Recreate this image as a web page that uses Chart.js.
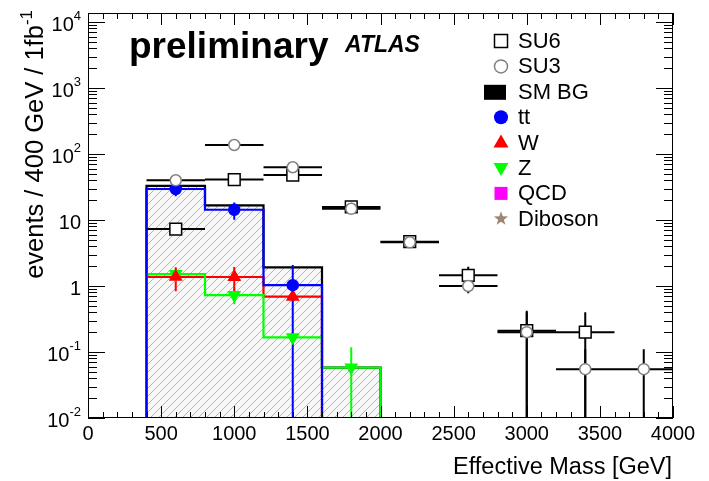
<!DOCTYPE html>
<html>
<head>
<meta charset="utf-8">
<script src="https://cdn.jsdelivr.net/npm/chart.js@4.4.0/dist/chart.umd.min.js"></script>
<style>
    html, body { margin: 0; padding: 0; background: #fff; }
    canvas { display: block; }
</style>
</head>
<body>
<canvas id="mass-chart" width="709" height="481"></canvas>
<script>
// Axis ranges and tick labels
const yMin = 0.01;
const yMax = 13700;
const xTickValues = [0, 500, 1000, 1500, 2000, 2500, 3000, 3500, 4000];
const yTickExponents = [-2, -1, 0, 1, 2, 3, 4];

// Bins (400 GeV wide)
const binCenters = [600, 1000, 1400, 1800, 2200, 2600, 3000, 3400, 3800];
const bgEdges = [400, 800, 1200, 1600, 2000];

// Background histograms
const smBg = [33, 16.7, 1.92, 0.058];
const ttHist = [29.5, 14.3, 1.03];
const wHist = [1.38, 1.37, 0.69];
const zHist = [1.52, 0.73, 0.167, 0.058];

// Background markers errors
const ttErr = [6.5, 4.2, 1.05];
const wErr = [0.55, 0.57, 0.1];
const zErr = [0.3, 0.2, 0.03, 0.06];

// Signal points
const su6 = [7.3, 41, 48, 15.8, 4.7, 1.45, 0.21, 0.2];
const su6Err = [0.5, 1.5, 1.6, 0.9, 0.5, 0.5, 0.21, 0.2];
const su3 = [40, 137, 63, 14.8, 4.6, 1.0, 0.2, 0.055, 0.055];
const su3Err = [1.4, 2.7, 1.8, 0.9, 0.5, 0.22, 0.2, 0.055, 0.055];

const legendLabels = ['SU6', 'SU3', 'SM BG', 'tt', 'W', 'Z', 'QCD', 'Diboson'];

const FONT = '"Liberation Sans", Arial, Helvetica, sans-serif';
const BLUE = '#0000ff', RED = '#ff0000', GREEN = '#00ff00';

// step outline that starts and ends on the axis floor
function stepPoints(edges, vals) {
    const pts = [{ x: edges[0], y: yMin }];
    vals.forEach((v, i) => pts.push({ x: edges[i], y: v }));
    pts.push({ x: edges[vals.length], y: yMin });
    return pts;
}

function markerPoints(vals) {
    return vals.map((v, i) => ({ x: binCenters[i], y: v }));
}

// vertical error segments separated by gaps
function vErrPoints(vals, errs) {
    const pts = [];
    vals.forEach((v, i) => {
        pts.push({ x: binCenters[i], y: Math.max(v - errs[i], yMin) });
        pts.push({ x: binCenters[i], y: v + errs[i] });
        pts.push({ x: binCenters[i], y: null });
    });
    return pts;
}

// horizontal bin-width bars
function hBarPoints(vals) {
    const pts = [];
    vals.forEach((v, i) => {
        pts.push({ x: binCenters[i] - 200, y: v });
        pts.push({ x: binCenters[i] + 200, y: v });
        pts.push({ x: binCenters[i], y: null });
    });
    return pts;
}

function makeHatch(ctx) {
    const tile = document.createElement('canvas');
    tile.width = 8;
    tile.height = 8;
    const g = tile.getContext('2d');
    g.fillStyle = '#f7f7f7';
    g.fillRect(0, 0, 8, 8);
    g.strokeStyle = '#b4b4b4';
    g.lineWidth = 1;
    g.beginPath();
    g.moveTo(0, 8); g.lineTo(8, 0);
    g.moveTo(-1, 1); g.lineTo(1, -1);
    g.moveTo(7, 9); g.lineTo(9, 7);
    g.stroke();
    return ctx.createPattern(tile, 'repeat');
}

function histSet(data, color, order, fill) {
    return {
        data, stepped: true, borderColor: color, borderWidth: 2.2,
        pointRadius: 0, fill: fill ? 'start' : false,
        backgroundColor: fill || 'transparent', order
    };
}

function lineSet(data, color, order) {
    return {
        data, borderColor: color, borderWidth: 2, pointRadius: 0,
        spanGaps: false, fill: false, order
    };
}

function markerSet(data, style, radius, fillColor, lineColor, order, rotation) {
    return {
        data, showLine: false, pointStyle: style, pointRadius: radius,
        pointBackgroundColor: fillColor, pointBorderColor: lineColor,
        pointBorderWidth: 1.5, pointRotation: rotation || 0, order
    };
}

// ROOT-style marker drawing for the legend
function drawLegendMarker(ctx, kind, x, y) {
    ctx.save();
    ctx.lineWidth = 1.5;
    switch (kind) {
        case 'SU6':
            ctx.fillStyle = '#fff'; ctx.strokeStyle = '#000';
            ctx.fillRect(x - 6.5, y - 6.5, 13, 13); ctx.strokeRect(x - 6.5, y - 6.5, 13, 13);
            break;
        case 'SU3':
            ctx.fillStyle = '#fff'; ctx.strokeStyle = '#808080';
            ctx.beginPath(); ctx.arc(x, y, 6.5, 0, Math.PI * 2); ctx.fill(); ctx.stroke();
            break;
        case 'SM BG':
            ctx.fillStyle = '#000'; ctx.fillRect(x - 17, y - 7, 22, 15);
            break;
        case 'tt':
            ctx.fillStyle = BLUE;
            ctx.beginPath(); ctx.arc(x, y, 7, 0, Math.PI * 2); ctx.fill();
            break;
        case 'W':
            ctx.fillStyle = RED;
            ctx.beginPath(); ctx.moveTo(x, y - 8); ctx.lineTo(x + 7.5, y + 5); ctx.lineTo(x - 7.5, y + 5); ctx.closePath(); ctx.fill();
            break;
        case 'Z':
            ctx.fillStyle = GREEN;
            ctx.beginPath(); ctx.moveTo(x, y + 8); ctx.lineTo(x + 7.5, y - 5); ctx.lineTo(x - 7.5, y - 5); ctx.closePath(); ctx.fill();
            break;
        case 'QCD':
            ctx.fillStyle = '#ff00ff'; ctx.fillRect(x - 6.5, y - 6.5, 13, 13);
            break;
        case 'Diboson': {
            ctx.fillStyle = '#a08474';
            ctx.beginPath();
            for (let k = 0; k < 10; k++) {
                const r = k % 2 === 0 ? 7.5 : 3;
                const a = -Math.PI / 2 + k * Math.PI / 5;
                ctx.lineTo(x + r * Math.cos(a), y + r * Math.sin(a));
            }
            ctx.closePath(); ctx.fill();
            break;
        }
    }
    ctx.restore();
}

// frame, inward ticks on all sides, labels, titles and legend
const rootFrame = {
    id: 'rootFrame',
    afterDraw(chart) {
        const { ctx, chartArea: a, scales } = chart;
        const xs = scales.x, ys = scales.y;
        ctx.save();
        ctx.strokeStyle = '#000';
        ctx.lineWidth = 1;
        ctx.strokeRect(a.left + 0.5, a.top + 0.5, a.right - a.left - 1, a.bottom - a.top - 1);

        ctx.beginPath();
        for (let v = 0; v <= 4000; v += 100) {
            const px = Math.round(xs.getPixelForValue(v)) + 0.5;
            const len = v % 500 === 0 ? 12 : 6;
            ctx.moveTo(px, a.bottom); ctx.lineTo(px, a.bottom - len);
            ctx.moveTo(px, a.top); ctx.lineTo(px, a.top + len);
        }
        for (let e = -2; e <= 4; e++) {
            for (let m = 1; m <= 9; m++) {
                const v = m * Math.pow(10, e);
                if (v > yMax) break;
                const py = Math.round(ys.getPixelForValue(v)) + 0.5;
                const len = m === 1 ? 17 : 9;
                ctx.moveTo(a.left, py); ctx.lineTo(a.left + len, py);
                ctx.moveTo(a.right, py); ctx.lineTo(a.right - len, py);
            }
        }
        ctx.stroke();

        ctx.fillStyle = '#000';
        ctx.font = '20px ' + FONT;
        ctx.textAlign = 'center';
        ctx.textBaseline = 'middle';
        xTickValues.forEach(v => ctx.fillText(String(v), xs.getPixelForValue(v), 434));

        // y labels: 1, 10 plain, others 10 with exponent
        const right = 81;
        yTickExponents.forEach(e => {
            const py = ys.getPixelForValue(Math.pow(10, e)) + 3;
            ctx.textBaseline = 'middle';
            if (e === 0 || e === 1) {
                ctx.font = '20px ' + FONT;
                ctx.textAlign = 'right';
                ctx.fillText(e === 0 ? '1' : '10', right, py);
            } else {
                ctx.font = '13px ' + FONT;
                const sup = String(e);
                const supW = ctx.measureText(sup).width;
                ctx.textAlign = 'left';
                ctx.fillText(sup, right - supW, py - 9);
                ctx.font = '20px ' + FONT;
                ctx.textAlign = 'right';
                ctx.fillText('10', right - supW, py);
            }
        });

        // axis titles
        ctx.font = '23.5px ' + FONT;
        ctx.textAlign = 'right';
        ctx.textBaseline = 'alphabetic';
        ctx.fillText('Effective Mass [GeV]', 672, 474);

        ctx.save();
        ctx.translate(43, a.top - 3);
        ctx.rotate(-Math.PI / 2);
        ctx.font = '17px ' + FONT;
        const supW = ctx.measureText('-1').width;
        ctx.textAlign = 'right';
        ctx.fillText('-1', 0, -11);
        ctx.font = '25.5px ' + FONT;
        ctx.fillText('events / 400 GeV / 1fb', -supW, 0);
        ctx.restore();

        // labels
        ctx.textAlign = 'left';
        ctx.font = 'bold 37px ' + FONT;
        ctx.fillText('preliminary', 129, 58);
        ctx.font = 'italic bold 23px ' + FONT;
        ctx.fillText('ATLAS', 345, 52);

        // legend
        ctx.font = '22px ' + FONT;
        ctx.textBaseline = 'middle';
        legendLabels.forEach((label, i) => {
            const y = 41 + i * 25.4;
            drawLegendMarker(ctx, label, 501, y);
            ctx.fillStyle = '#000';
            ctx.fillText(label, 518, y + 1);
        });
        ctx.restore();
    }
};

const canvas = document.getElementById('mass-chart');
const hatch = makeHatch(canvas.getContext('2d'));

new Chart(canvas, {
    type: 'line',
    data: {
        datasets: [
            histSet(stepPoints(bgEdges, smBg), '#000', 20, hatch),
            histSet(stepPoints(bgEdges, wHist), RED, 18),
            histSet(stepPoints(bgEdges, zHist), GREEN, 17),
            histSet(stepPoints(bgEdges, ttHist), BLUE, 16),
            lineSet(vErrPoints(ttHist, ttErr), BLUE, 12),
            lineSet(vErrPoints(wHist, wErr), RED, 12),
            lineSet(vErrPoints(zHist, zErr), GREEN, 12),
            lineSet(hBarPoints(su6), '#000', 11),
            lineSet(vErrPoints(su6, su6Err), '#000', 11),
            lineSet(hBarPoints(su3), '#000', 11),
            lineSet(vErrPoints(su3, su3Err), '#000', 11),
            markerSet(markerPoints(ttHist), 'circle', 5.5, BLUE, BLUE, 3),
            markerSet(markerPoints(wHist), 'triangle', 6.5, RED, RED, 3),
            markerSet(markerPoints(zHist), 'triangle', 6.5, GREEN, GREEN, 3, 180),
            markerSet(markerPoints(su6), 'rect', 8.3, '#fff', '#000', 2),
            markerSet(markerPoints(su3), 'circle', 5.5, '#fff', '#808080', 1)
        ]
    },
    options: {
        responsive: false,
        animation: false,
        layout: { padding: { left: 88, right: 36, top: 13, bottom: 63 } },
        plugins: {
            legend: { display: false },
            tooltip: { enabled: false }
        },
        scales: {
            x: { type: 'linear', min: 0, max: 4000, display: false },
            y: { type: 'logarithmic', min: yMin, max: yMax, display: false }
        }
    },
    plugins: [rootFrame]
});
</script>
</body>
</html>
